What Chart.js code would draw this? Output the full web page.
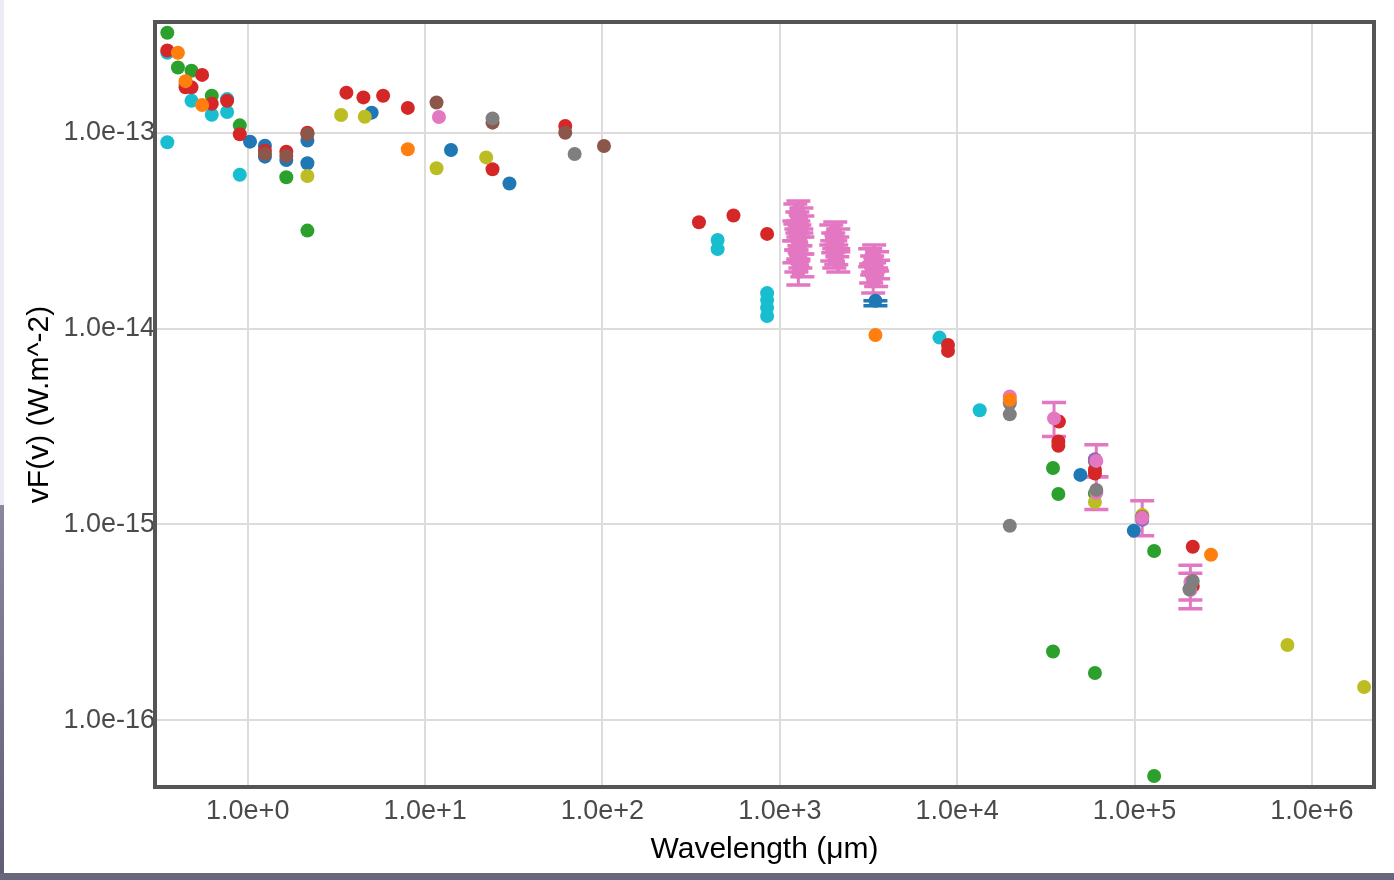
<!DOCTYPE html>
<html>
<head>
<meta charset="utf-8">
<script src="https://cdn.jsdelivr.net/npm/chart.js@4.4.1/dist/chart.umd.min.js"></script>
<style>
  html, body { margin: 0; padding: 0; background: #fff; }
  #wrap { position: relative; width: 1394px; height: 880px; overflow: hidden; }
  #edgeTop { position: absolute; left: 0; top: 0; width: 4px; height: 505px; background: #ecebf6; }
  #edgeLow { position: absolute; left: 0; top: 505px; width: 4px; height: 375px; background: linear-gradient(#8a889c, #5e5d72); }
  #edgeBottom { position: absolute; left: 0; top: 873px; width: 1394px; height: 7px; background: #67667c; }
  canvas { position: absolute; left: 0; top: 0; }
</style>
</head>
<body>
<div id="wrap">
  <canvas id="chartSed" width="1394" height="880"></canvas>
  <div id="edgeTop"></div>
  <div id="edgeLow"></div>
  <div id="edgeBottom"></div>
</div>
<script>
const chartSed = document.getElementById("chartSed");

// axis ticks
const xTickValues = [1, 10, 100, 1e3, 1e4, 1e5, 1e6];
const xTickLabels = ["1.0e+0", "1.0e+1", "1.0e+2", "1.0e+3", "1.0e+4", "1.0e+5", "1.0e+6"];
const yTickValues = [1e-16, 1e-15, 1e-14, 1e-13];
const yTickLabels = ["1.0e-16", "1.0e-15", "1.0e-14", "1.0e-13"];

// photometry, wavelength (um) / nuFnu (W.m^-2), one pair per catalogue colour
const wlBlue = [1.03, 1.25, 1.25, 1.65, 2.17, 2.17, 5.0, 14.0, 29.9, 3460, 49500, 99100];
const fluxBlue = [9.03e-14, 8.61e-14, 7.57e-14, 7.28e-14, 9.14e-14, 7.0e-14, 1.27e-13, 8.19e-14, 5.52e-14, 1.39e-14, 1.79e-15, 9.29e-16];
const blueLo = [null, null, null, null, null, null, null, null, null, 1.31e-14, null, null];
const blueHi = [null, null, null, null, null, null, null, null, null, 1.39e-14, null, null];

const wlOrange = [0.404, 0.446, 0.553, 7.99, 3460, 19800, 270000];
const fluxOrange = [2.57e-13, 1.84e-13, 1.39e-13, 8.26e-14, 9.28e-15, 4.33e-15, 6.99e-16];

const wlGreen = [0.352, 0.404, 0.482, 0.446, 0.627, 0.902, 1.65, 2.17, 34700, 37200, 59800, 34700, 59800, 129000, 129000];
const fluxGreen = [3.25e-13, 2.16e-13, 2.08e-13, 1.78e-13, 1.55e-13, 1.094e-13, 5.94e-14, 3.17e-14, 1.94e-15, 1.43e-15, 1.44e-15, 2.24e-16, 1.74e-16, 7.31e-16, 5.18e-17];

const wlRed = [0.352, 0.553, 0.446, 0.482, 0.627, 0.765, 0.902, 1.25, 1.65, 2.17, 3.6, 4.49, 5.8, 7.99, 24.0, 61.7, 350, 548, 848, 8880, 8880, 37500, 37200, 37200, 59800, 59800, 213000, 213000];
const fluxRed = [2.64e-13, 1.98e-13, 1.71e-13, 1.71e-13, 1.41e-13, 1.46e-13, 9.85e-14, 8.12e-14, 8.02e-14, 1.003e-13, 1.607e-13, 1.52e-13, 1.55e-13, 1.343e-13, 6.53e-14, 1.086e-13, 3.5e-14, 3.79e-14, 3.05e-14, 8.26e-15, 7.7e-15, 3.35e-15, 2.65e-15, 2.52e-15, 1.9e-15, 1.82e-15, 7.69e-16, 4.84e-16];

const wlPurple = [59800, 110500];
const fluxPurple = [2.15e-15, 1.054e-15];

const wlBrown = [1.25, 1.65, 2.17, 11.6, 24.0, 61.7, 102, 59800, 110500];
const fluxBrown = [7.81e-14, 7.63e-14, 9.85e-14, 1.43e-13, 1.129e-13, 1.003e-13, 8.58e-14, 2.11e-15, 1.087e-15];

// pink: two plain points, three mm clusters, then the radio points
const wlPink = [11.97, 19800,
  1272, 1224, 1323, 1256, 1340, 1208, 1289, 1240, 1323, 1272, 1208, 1306, 1240, 1340, 1272,
  2054, 1951, 2136, 2002, 2109, 1976, 2081, 2028, 2136,
  3405, 3233, 3539, 3317, 3585, 3275, 3494, 3361,
  35170, 60900, 60900, 110500, 206500, 206500];
const fluxPink = [1.207e-13, 4.5e-15,
  4.04e-14, 3.86e-14, 3.68e-14, 3.51e-14, 3.35e-14, 3.16e-14, 3.01e-14, 2.87e-14, 2.74e-14, 2.59e-14, 2.47e-14, 2.33e-14, 2.22e-14, 2.09e-14, 1.95e-14,
  3.16e-14, 3.01e-14, 2.87e-14, 2.74e-14, 2.62e-14, 2.49e-14, 2.38e-14, 2.27e-14, 2.17e-14,
  2.41e-14, 2.3e-14, 2.19e-14, 2.09e-14, 2.0e-14, 1.9e-14, 1.82e-14, 1.74e-14,
  3.48e-15, 2.11e-15, 1.45e-15, 1.08e-15, 5.08e-16, 4.62e-16];
const pinkHi = [null, null,
  4.49e-14, 4.34e-14, 4.14e-14, 3.95e-14, 3.77e-14, 3.55e-14, 3.39e-14, 3.23e-14, 3.08e-14, 2.94e-14, 2.81e-14, 2.65e-14, 2.52e-14, 2.41e-14, 2.22e-14,
  3.51e-14, 3.39e-14, 3.23e-14, 3.08e-14, 2.94e-14, 2.81e-14, 2.68e-14, 2.56e-14, 2.47e-14,
  2.68e-14, 2.56e-14, 2.47e-14, 2.35e-14, 2.24e-14, 2.14e-14, 2.04e-14, 1.95e-14,
  4.19e-15, 2.55e-15, 1.75e-15, 1.32e-15, 6.18e-16, 5.62e-16];
const pinkLo = [null, null,
  3.55e-14, 3.43e-14, 3.23e-14, 3.08e-14, 2.94e-14, 2.81e-14, 2.65e-14, 2.52e-14, 2.41e-14, 2.27e-14, 2.17e-14, 2.04e-14, 1.95e-14, 1.84e-14, 1.67e-14,
  2.81e-14, 2.68e-14, 2.56e-14, 2.44e-14, 2.33e-14, 2.22e-14, 2.12e-14, 2.04e-14, 1.95e-14,
  2.17e-14, 2.07e-14, 1.97e-14, 1.88e-14, 1.8e-14, 1.71e-14, 1.64e-14, 1.52e-14,
  2.81e-15, 1.75e-15, 1.19e-15, 8.75e-16, 4.11e-16, 3.71e-16];

const wlGray = [24.0, 69.7, 19800, 19800, 19800, 60900, 213000, 204000];
const fluxGray = [1.186e-13, 7.81e-14, 4.16e-15, 3.65e-15, 9.84e-16, 1.5e-15, 5.14e-16, 4.66e-16];

const wlOlive = [2.17, 3.36, 4.57, 11.6, 22.1, 59800, 110500, 728000, 1970000];
const fluxOlive = [6.03e-14, 1.236e-13, 1.211e-13, 6.6e-14, 7.5e-14, 1.3e-15, 1.118e-15, 2.42e-16, 1.476e-16];

const wlCyan = [0.352, 0.352, 0.482, 0.627, 0.765, 0.765, 0.902, 446, 446, 848, 848, 848, 848, 7950, 13400];
const fluxCyan = [2.57e-13, 8.96e-14, 1.46e-13, 1.24e-13, 1.49e-13, 1.28e-13, 6.12e-14, 2.84e-14, 2.55e-14, 1.52e-14, 1.4e-14, 1.28e-14, 1.16e-14, 9.0e-15, 3.83e-15];

function points(xs, ys) {
	return xs.map(function(x, i) { return {x: x, y: ys[i]}; });
}

function serie(xs, ys, colour, lo, hi) {
	return {
		data: points(xs, ys),
		backgroundColor: colour,
		borderWidth: 0,
		pointRadius: 7,
		pointHoverRadius: 7,
		errLo: lo,
		errHi: hi
	};
}

// vertical error bars with caps, drawn under the markers
const errorBars = {
	id: "errorBars",
	beforeDatasetsDraw(chart) {
		const ctx = chart.ctx;
		const sx = chart.scales.x;
		const sy = chart.scales.y;
		chart.data.datasets.forEach(function(ds) {
			if (!ds.errLo) return;
			ctx.save();
			ctx.strokeStyle = ds.backgroundColor;
			ds.data.forEach(function(p, i) {
				if (ds.errLo[i] == null) return;
				const x = sx.getPixelForValue(p.x);
				const top = sy.getPixelForValue(ds.errHi[i]);
				const bot = sy.getPixelForValue(ds.errLo[i]);
				ctx.lineWidth = 3;
				ctx.beginPath();
				ctx.moveTo(x, top);
				ctx.lineTo(x, bot);
				ctx.stroke();
				ctx.lineWidth = 3.5;
				ctx.beginPath();
				ctx.moveTo(x - 12, top);
				ctx.lineTo(x + 12, top);
				ctx.moveTo(x - 12, bot);
				ctx.lineTo(x + 12, bot);
				ctx.stroke();
			});
			ctx.restore();
		});
	}
};

// dark frame round the plot area
const frame = {
	id: "frame",
	afterDatasetsDraw(chart) {
		const a = chart.chartArea;
		const ctx = chart.ctx;
		ctx.save();
		ctx.strokeStyle = "#555555";
		ctx.lineWidth = 4;
		ctx.strokeRect(a.left, a.top, a.right - a.left, a.bottom - a.top);
		ctx.restore();
	}
};

const fontFamily = "'Liberation Sans', Arial, Helvetica, sans-serif";

const sedChart = new Chart(chartSed, {
	type: "scatter",
	data: {
		datasets: [
			serie(wlOrange, fluxOrange, "#ff7f0e"),
			serie(wlGray, fluxGray, "#7f7f7f"),
			serie(wlPink, fluxPink, "#e377c2", pinkLo, pinkHi),
			serie(wlPurple, fluxPurple, "#9467bd"),
			serie(wlBrown, fluxBrown, "#8c564b"),
			serie(wlOlive, fluxOlive, "#bcbd22"),
			serie(wlRed, fluxRed, "#d62728"),
			serie(wlGreen, fluxGreen, "#2ca02c"),
			serie(wlBlue, fluxBlue, "#1f77b4", blueLo, blueHi),
			serie(wlCyan, fluxCyan, "#17becf")
		]
	},
	options: {
		responsive: false,
		animation: false,
		layout: {
			padding: { top: 22, right: 20, left: 0, bottom: 0 }
		},
		plugins: {
			legend: { display: false },
			tooltip: { enabled: false }
		},
		scales: {
			x: {
				type: "logarithmic",
				min: 0.312,
				max: 2.24e6,
				afterBuildTicks: function(scale) {
					scale.ticks = xTickValues.map(function(v) { return {value: v}; });
				},
				afterFit: function(scale) { scale.height = 93; },
				border: { display: false },
				grid: { color: "#dcdcdc", lineWidth: 2, drawTicks: false },
				ticks: {
					autoSkip: false,
					maxRotation: 0,
					padding: 8,
					color: "#4a4a4a",
					font: { family: fontFamily, size: 27 },
					callback: function(value, index) { return xTickLabels[index]; }
				},
				title: {
					display: true,
					text: "Wavelength (μm)",
					color: "#000",
					padding: { top: 0, bottom: 12 },
					font: { family: fontFamily, size: 30 }
				}
			},
			y: {
				type: "logarithmic",
				min: 4.55e-17,
				max: 3.69e-13,
				afterBuildTicks: function(scale) {
					scale.ticks = yTickValues.map(function(v) { return {value: v}; });
				},
				afterFit: function(scale) { scale.width = 155; },
				border: { display: false },
				grid: { color: "#dcdcdc", lineWidth: 2, drawTicks: false },
				ticks: {
					autoSkip: false,
					padding: 0,
					color: "#4a4a4a",
					font: { family: fontFamily, size: 27 },
					callback: function(value, index) { return yTickLabels[index]; }
				},
				title: {
					display: true,
					text: "vF(v) (W.m^-2)",
					color: "#000",
					padding: { top: 22, bottom: 0 },
					font: { family: fontFamily, size: 30 }
				}
			}
		}
	},
	plugins: [errorBars, frame]
});
</script>
</body>
</html>
